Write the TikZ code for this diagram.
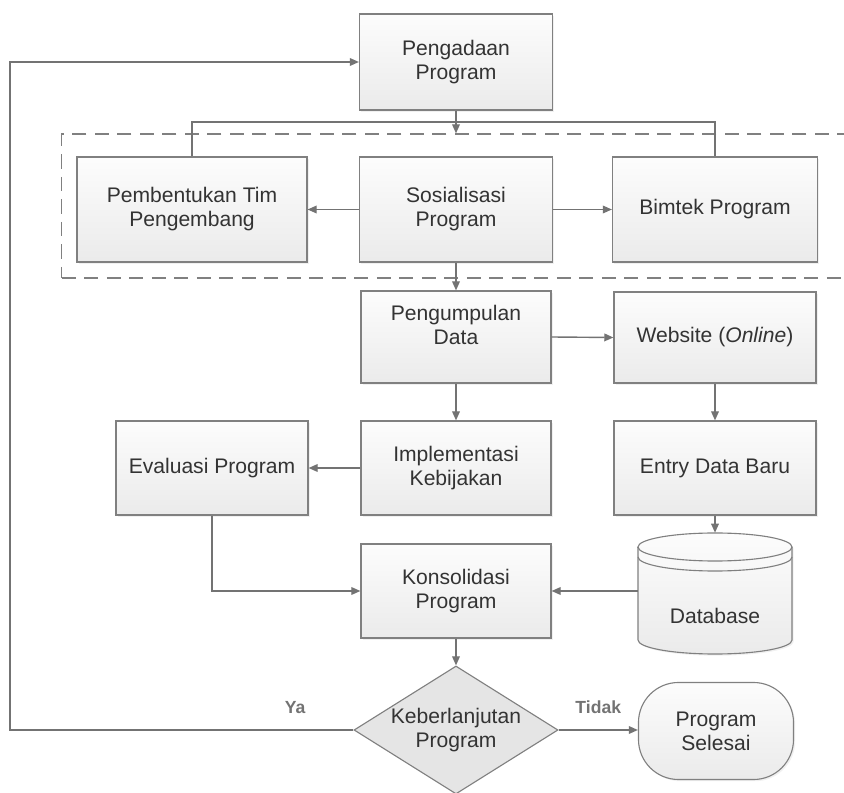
\documentclass[tikz,border=0pt]{standalone}
\usepackage{fontspec}
\setmainfont{Liberation Sans}
\usetikzlibrary{arrows.meta,shapes.geometric,shadows}

\begin{document}
\begin{tikzpicture}[x=0.025cm,y=-0.025cm,
    kotak/.style={draw=black!50, line width=0.8pt, top color=black!1, bottom color=black!8,
        drop shadow={opacity=0.12,shadow xshift=1.2pt,shadow yshift=-1.2pt},
        align=center, text=black!80, font=\fontsize{15}{17}\selectfont, inner sep=2pt},
    panah/.style={draw=black!55, line width=1pt, -{Triangle[length=6.5pt,width=5.5pt]}},
    garis/.style={draw=black!55, line width=1pt},
    ket/.style={text=black!55, font=\fontsize{12.5}{14}\selectfont\bfseries}]
    \useasboundingbox (0,0) rectangle (844,793);

    % Group around the three socialisation boxes
    \node[draw=black!50, line width=0.8pt, dash pattern=on 10pt off 6pt,
        minimum width=21cm, minimum height=3.6cm] (grup) at (482,206) {};

    % Process boxes
    \node[kotak, minimum width=4.825cm, minimum height=2.4cm] (pengadaan) at (456,62) {Pengadaan\\Program};
    \node[kotak, minimum width=5.75cm, minimum height=2.625cm] (pembentukan) at (192,209.5) {Pembentukan Tim\\Pengembang};
    \node[kotak, minimum width=4.825cm, minimum height=2.625cm] (sosialisasi) at (456,209.5) {Sosialisasi\\Program};
    \node[kotak, minimum width=5.125cm, minimum height=2.625cm] (bimtek) at (715,209.5) {Bimtek Program};
    \node[kotak, minimum width=4.75cm, minimum height=2.3cm] (pengumpulan) at (456,337) {Pengumpulan\\Data\\\mbox{}};
    \node[kotak, minimum width=5.05cm, minimum height=2.275cm] (website) at (715,337.5) {Website (\textit{Online})};
    \node[kotak, minimum width=5.05cm, minimum height=2.35cm] (entry) at (715,468) {Entry Data Baru};
    \node[kotak, minimum width=4.75cm, minimum height=2.35cm] (implementasi) at (456,468) {Implementasi\\Kebijakan};
    \node[kotak, minimum width=4.8cm, minimum height=2.35cm] (evaluasi) at (212,468) {Evaluasi Program};
    \node[kotak, minimum width=4.75cm, minimum height=2.35cm] (konsolidasi) at (456,591) {Konsolidasi\\Program};

    % Database cylinder
    \path[draw=black!50, line width=0.8pt, top color=black!1, bottom color=black!8,
        drop shadow={opacity=0.12,shadow xshift=1.2pt,shadow yshift=-1.2pt}]
        (638,547) -- (638,640) arc[start angle=180, end angle=360, x radius=1.925cm, y radius=0.35cm]
        -- (792,547) arc[start angle=0, end angle=180, x radius=1.925cm, y radius=0.35cm] -- cycle;
    \draw[black!50, line width=0.8pt] (638,547) arc[start angle=180, end angle=360, x radius=1.925cm, y radius=0.35cm];
    \draw[black!50, line width=0.8pt] (638,557) arc[start angle=180, end angle=360, x radius=1.925cm, y radius=0.35cm];
    \node[minimum width=3.85cm, minimum height=3.025cm,
        label={[text=black!80, font=\fontsize{15}{17}\selectfont, yshift=-0.55cm]center:Database}] (db) at (715,593.5) {};

    % Decision and end
    \node[diamond, draw=black!50, line width=0.8pt, fill=black!10, aspect=1.6, inner sep=0pt,
        minimum width=5.1cm, minimum height=3.2cm, align=center, text=black!80,
        font=\fontsize{15}{17}\selectfont] (keputusan) at (456,730) {Keberlanjutan\\Program};
    \node[kotak, rounded corners=1cm, minimum width=3.875cm, minimum height=2.425cm] (selesai) at (716,731) {Program\\Selesai};

    % Connectors
    \coordinate (cabang) at (456,122);
    \coordinate (balik) at (10,730);
    \draw[garis] (pembentukan.north) |- (cabang) -| (bimtek.north);
    \draw[panah] (pengadaan.south) -- (pengadaan.south |- grup.north);
    \foreach \dari/\ke in {sosialisasi.west/pembentukan.east, sosialisasi.east/bimtek.west,
        sosialisasi.south/pengumpulan.north, pengumpulan.east/website.west,
        website.south/entry.north, pengumpulan.south/implementasi.north,
        implementasi.west/evaluasi.east, entry.south/db.north,
        konsolidasi.south/keputusan.north}
        \draw[panah] (\dari) -- (\ke);
    \draw[panah] (evaluasi.south) |- (konsolidasi.west);
    \draw[panah] (db.west |- konsolidasi.east) -- (konsolidasi.east);
    \draw[panah] (keputusan.east) -- node[ket, above=8pt] {Tidak} (keputusan.east -| selesai.west);
    \draw[panah] (keputusan.west) -- node[ket, pos=0.17, above=8pt] {Ya} (balik) |- (pengadaan.west);
\end{tikzpicture}
\end{document}
